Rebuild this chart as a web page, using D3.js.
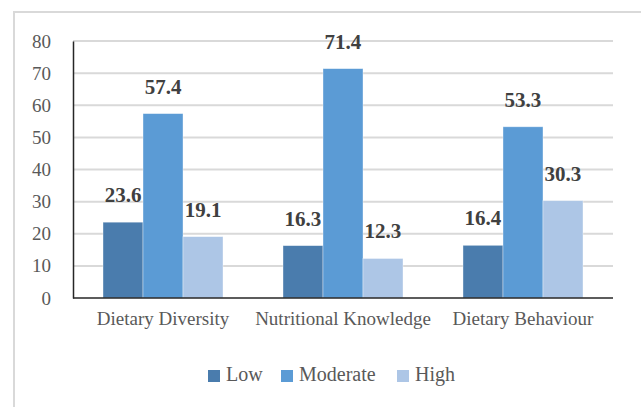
<!DOCTYPE html>
<html>
<head>
<meta charset="utf-8">
<script src="https://cdn.jsdelivr.net/npm/d3@7"></script>
<style>
  html, body { margin: 0; padding: 0; background: #fff; }
  svg { display: block; }
  svg text { font-family: "Liberation Serif", "Times New Roman", serif; }
</style>
</head>
<body>
<svg id="chart" width="641" height="407"></svg>
<script>
// Score distribution by domain
const categories = ["Dietary Diversity", "Nutritional Knowledge", "Dietary Behaviour"];
const seriesNames = ["Low", "Moderate", "High"];
const lowValues = [23.6, 16.3, 16.4];
const moderateValues = [57.4, 71.4, 53.3];
const highValues = [19.1, 12.3, 30.3];
const yTicks = [0, 10, 20, 30, 40, 50, 60, 70, 80];
const colors = ["#4a7cad", "#5b9bd5", "#adc6e6"];

const seriesValues = [lowValues, moderateValues, highValues];
const rows = categories.map((c, i) => ({
  category: c,
  values: seriesNames.map((s, j) => ({ series: s, value: seriesValues[j][i], idx: j }))
}));

const svg = d3.select("#chart");
const font = "'Liberation Serif', 'Times New Roman', serif";

// Outer frame
svg.append("rect")
  .attr("x", 14).attr("y", 12)
  .attr("width", 640).attr("height", 420)
  .attr("fill", "none").attr("stroke", "#d9d9d9").attr("stroke-width", 2);

const plot = { left: 73, right: 613, top: 41, bottom: 298 };

const x0 = d3.scaleBand().domain(categories).range([plot.left, plot.right]).paddingInner(0.3333).paddingOuter(0.1667);
const x1 = d3.scaleBand().domain(seriesNames).range([0, x0.bandwidth()]);
const y = d3.scaleLinear().domain([0, 80]).range([plot.bottom, plot.top]);

// Gridlines
svg.append("g").selectAll("line").data(yTicks.filter(t => t > 0)).join("line")
  .attr("x1", plot.left).attr("x2", plot.right)
  .attr("y1", d => y(d)).attr("y2", d => y(d))
  .attr("stroke", "#d9d9d9").attr("stroke-width", 2);

// Bars
const groups = svg.append("g").selectAll("g").data(rows).join("g")
  .attr("transform", d => `translate(${x0(d.category)},0)`);

groups.selectAll("rect").data(d => d.values).join("rect")
  .attr("x", d => x1(d.series))
  .attr("y", d => y(d.value))
  .attr("width", x1.bandwidth())
  .attr("height", d => y(0) - y(d.value))
  .attr("fill", d => colors[d.idx])
  .attr("stroke", "#ffffff").attr("stroke-opacity", 0.5).attr("stroke-width", 0.75);

// Value labels
groups.selectAll("text").data(d => d.values).join("text")
  .attr("x", d => x1(d.series) + x1.bandwidth() / 2)
  .attr("y", d => y(d.value) - 20)
  .attr("text-anchor", "middle")
  .style("font-family", font).attr("font-weight", "bold").attr("font-size", 21)
  .attr("fill", "#404040")
  .text(d => d.value.toFixed(1));

// Y axis
const yAxis = svg.append("g").attr("transform", `translate(${plot.left},0)`)
  .call(d3.axisLeft(y).tickValues(yTicks).tickSize(0).tickPadding(22));
yAxis.attr("font-family", null);
yAxis.select(".domain").attr("stroke", "#262626").attr("stroke-width", 1.5);
yAxis.selectAll("text").style("font-family", font).attr("font-size", 19).attr("fill", "#595959");

// X axis
const xAxis = svg.append("g").attr("transform", `translate(0,${plot.bottom})`)
  .call(d3.axisBottom(x0).tickSize(0).tickPadding(14));
xAxis.attr("font-family", null);
xAxis.select(".domain").attr("d", `M${plot.left},0H${plot.right}`).attr("stroke", "#262626").attr("stroke-width", 1.5);
xAxis.selectAll("text").style("font-family", font).attr("font-size", 19).attr("fill", "#595959");

// Legend
const legendX = [208, 281, 397];
const legend = svg.append("g").selectAll("g").data(seriesNames).join("g")
  .attr("transform", (d, i) => `translate(${legendX[i]},370)`);
legend.append("rect").attr("width", 12).attr("height", 12).attr("fill", (d, i) => colors[i]);
legend.append("text").attr("x", 18).attr("y", 11)
  .style("font-family", font).attr("font-size", 20).attr("fill", "#595959")
  .text(d => d);
</script>
</body>
</html>
